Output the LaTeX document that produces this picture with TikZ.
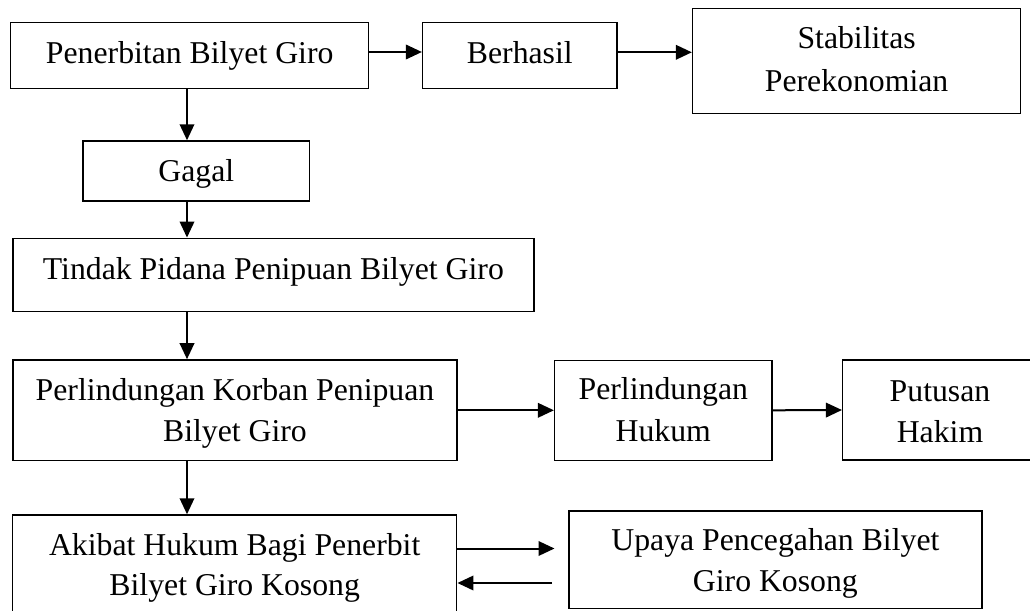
\documentclass[tikz,border=0pt]{standalone}
\usepackage{fontspec}
\setmainfont{Liberation Serif}
\usetikzlibrary{arrows.meta,calc}
\newcommand\st[2]{\rule[-#2pt]{0pt}{\dimexpr #1pt+#2pt\relax}}
\begin{document}
\begin{tikzpicture}[x=1pt,y=-1pt,
  box/.style={draw=black,line width=1.5pt,rectangle,inner sep=0pt,align=center,
    font=\fontsize{31.75}{41.5}\selectfont},
  arr/.style={line width=2pt,-{Triangle[length=16pt,width=14.5pt]}}]
\useasboundingbox (0,0) rectangle (1030,610);
\node[box,minimum width=358pt,minimum height=65.6pt] (b1) at (189.7,55.5) {\st{21.9}{6.9}Penerbitan Bilyet Giro};
\node[box,minimum width=194.3pt,minimum height=65.6pt] (b2) at (519.8,55.5) {\st{21.9}{6.9}Berhasil};
\node[box,minimum width=328pt,minimum height=105.4pt,font=\fontsize{31.75}{43}\selectfont] (b3) at (856.6,61) {\st{23.9}{0}Stabilitas\\Perekonomian\st{0}{6.9}};
\node[box,minimum width=226.7pt,minimum height=60pt] (b4) at (196.3,171) {\st{28.3}{6.9}Gagal};
\node[box,minimum width=521pt,minimum height=73.4pt] (b5) at (273.4,275) {\st{22}{13.4}Tindak Pidana Penipuan Bilyet Giro};
\node[box,minimum width=444pt,minimum height=100.7pt,font=\fontsize{31.75}{41.7}\selectfont] (b6) at (235,410.3) {\st{28}{0}Perlindungan Korban Penipuan\\Bilyet Giro\st{0}{6.9}};
\node[box,minimum width=217.3pt,minimum height=100pt,font=\fontsize{31.75}{42.4}\selectfont] (b7) at (663.3,410.3) {\st{27.3}{0}Perlindungan\\Hukum\st{0}{6.9}};
\node[box,minimum width=194.6pt,minimum height=100pt,font=\fontsize{31.75}{41}\selectfont] (b8) at (940,410) {\st{29.9}{0}Putusan\\Hakim\st{0}{6.9}};
\node[box,minimum width=444pt,minimum height=105pt,font=\fontsize{31.75}{40}\selectfont] (b9) at (234.7,567.5) {\st{21.9}{0}Akibat Hukum Bagi Penerbit\\Bilyet Giro Kosong\st{0}{6.9}};
\node[box,minimum width=412.8pt,minimum height=97.3pt,font=\fontsize{31.75}{41}\selectfont] (b10) at (775.4,559.7) {\st{29.9}{0}Upaya Pencegahan Bilyet\\Giro Kosong\st{0}{6.9}};
\coordinate (ax) at (187,0);
\coordinate (r1) at (554.5,548.5);
\coordinate (r2) at (552,583);
\draw[arr] ([yshift=3.5pt]b1.east) -- ([yshift=3.5pt]b1.east -| b2.west);
\draw[arr] ([yshift=3.2pt]b2.east) -- ([yshift=3.2pt]b2.east -| b3.west);
\draw[arr] (b1.south -| ax) -- (b4.north -| ax);
\draw[arr] (b4.south -| ax) -- (b5.north -| ax);
\draw[arr] (b5.south -| ax) -- (b6.north -| ax);
\draw[arr] (b6.east) -- (b7.west);
\draw[arr] (b7.east) -- (b8.west);
\draw[arr] (b6.south -| ax) -- (b9.north -| ax);
\draw[arr] (b9.east |- r1) -- (r1);
\draw[arr] (r2) -- (b9.east |- r2);
\end{tikzpicture}
\end{document}
